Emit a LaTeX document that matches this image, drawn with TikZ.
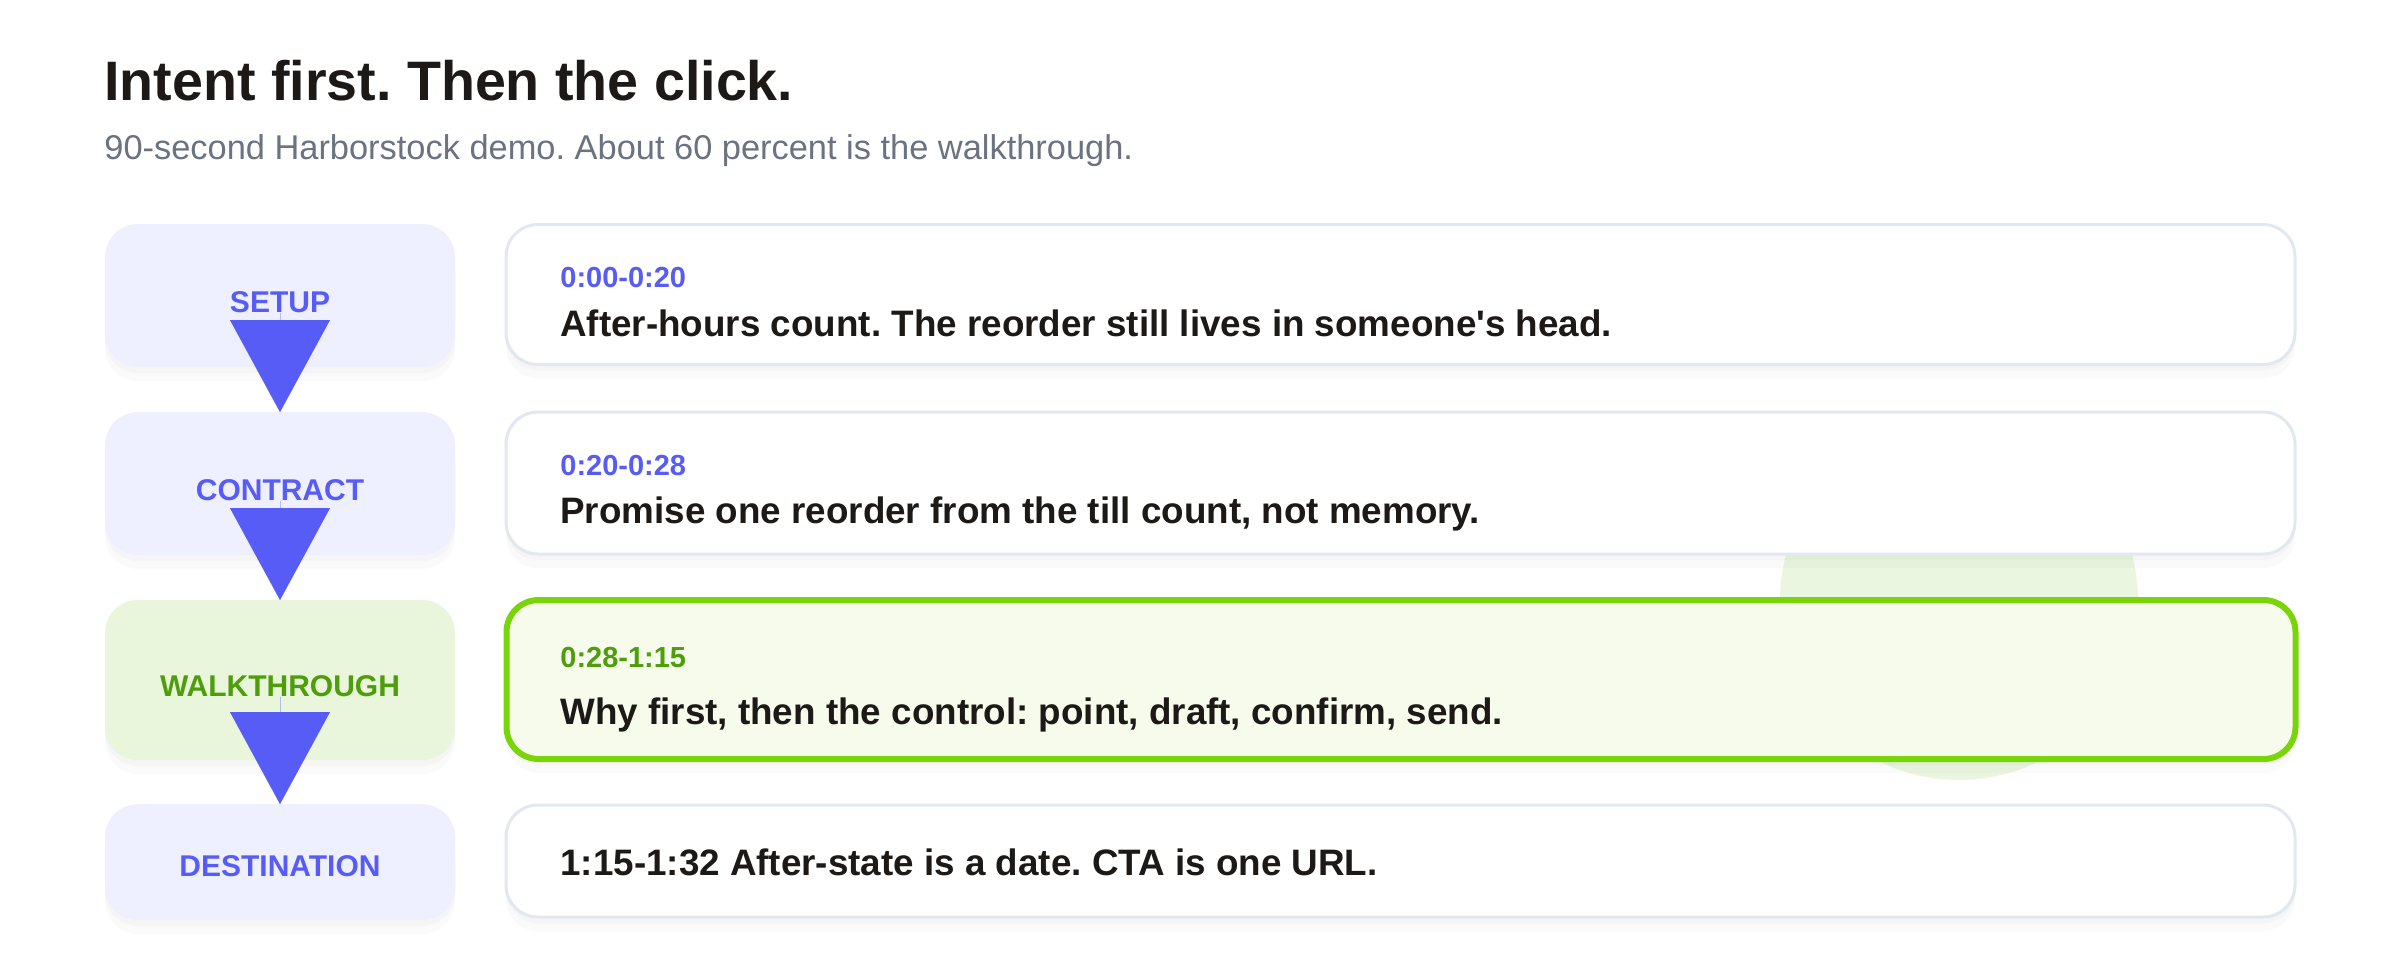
\documentclass[tikz,border=0pt]{standalone}
\usepackage{fontspec}
\setmainfont{Liberation Sans}
\usepackage{tikz}
\usetikzlibrary{arrows.meta}
\frenchspacing
\definecolor{ink}{RGB}{28,25,23}
\definecolor{mute}{RGB}{107,114,128}
\definecolor{indi}{RGB}{88,92,246}
\definecolor{indibg}{RGB}{238,240,255}
\definecolor{grn}{RGB}{78,158,12}
\definecolor{grnbg}{RGB}{233,246,219}
\definecolor{grnln}{RGB}{122,212,10}
\definecolor{grnfill}{RGB}{246,251,236}
\definecolor{rim}{RGB}{226,232,240}
\definecolor{blob}{RGB}{235,246,225}
\tikzstyle{shd}=[preaction={draw=none,fill=black,fill opacity=0.018,transform canvas={yshift=-3pt}},preaction={draw=none,fill=black,fill opacity=0.018,transform canvas={yshift=-7pt}}]
\tikzstyle{stg}=[rounded corners=16.5pt,minimum width=175pt,outer sep=0pt,inner sep=0pt,fill=indibg,shd]
\tikzstyle{crd}=[rounded corners=16pt,minimum width=894.5pt,outer sep=0pt,inner sep=0pt,draw=rim,line width=1.5pt,fill=white,shd]
\tikzstyle{lbl}=[anchor=base,inner sep=0pt,text=indi,font=\fontsize{15}{18}\selectfont\bfseries]
\tikzstyle{ts}=[anchor=base west,inner sep=0pt,text=indi,font=\fontsize{14.5}{17}\selectfont\bfseries]
\tikzstyle{msg}=[anchor=base west,inner sep=0pt,text=ink,font=\fontsize{18.4}{22}\selectfont\bfseries]
\tikzstyle{flow}=[draw=indi,line width=0.01pt,-{Triangle[length=46pt,width=50pt]}]
\begin{document}
\begin{tikzpicture}[x=0.5pt,y=-0.5pt]
\fill[white] (0,0) rectangle (2400,960);
\useasboundingbox (0,0) rectangle (2400,960);
\node[anchor=base west,inner sep=0pt,text=ink,font=\fontsize{27.8}{33}\selectfont\bfseries] (ttl) at (104,100) {Intent first. Then the click.};
\node[anchor=base west,inner sep=0pt,text=mute,font=\fontsize{17.2}{21}\selectfont] (sub) at (104,159) {90-second Harborstock demo. About 60 percent is the walkthrough.};
\fill[blob] (1959,601) circle[radius=89.5pt];
\node[stg,minimum height=71.5pt] (setup) at (280,295.5) {};
\node[stg,minimum height=71.5pt] (contract) at (280,483.5) {};
\node[stg,minimum height=80pt,fill=grnbg] (walk) at (280,680) {};
\node[stg,minimum height=58pt] (dest) at (280,862) {};
\node[lbl] (setuptx) at (280,312) {SETUP};
\node[lbl] (contracttx) at (280,500) {CONTRACT};
\node[lbl,text=grn] (walktx) at (280,696) {WALKTHROUGH};
\node[lbl] (desttx) at (280,876) {DESTINATION};
\node[crd,minimum height=70pt] (c1) at (1400.5,294.5) {};
\node[crd,minimum height=71pt] (c2) at (1400.5,483) {};
\node[crd,minimum height=79.5pt,draw=grnln,line width=3pt,fill=grnfill] (c3) at (1401,679.5) {};
\node[crd,minimum height=56pt] (c4) at (1400.5,861) {};
\node[ts] (t1) at (560,287) {0:00-0:20};
\node[msg] (m1) at (560,336) {After-hours count. The reorder still lives in someone\textquotesingle s head.};
\node[ts] (t2) at (560,475) {0:20-0:28};
\node[msg] (m2) at (560,523) {Promise one reorder from the till count, not memory.};
\node[ts,text=grn] (t3) at (560,667) {0:28-1:15};
\node[msg] (m3) at (560,724) {Why first, then the control: point, draft, confirm, send.};
\node[msg] (m4) at (560,875) {1:15-1:32 After-state is a date. CTA is one URL.};
\draw[flow] (setuptx) -- (contract);
\draw[flow] (contracttx) -- (walk);
\draw[flow] (walktx) -- (dest);
\end{tikzpicture}
\end{document}
